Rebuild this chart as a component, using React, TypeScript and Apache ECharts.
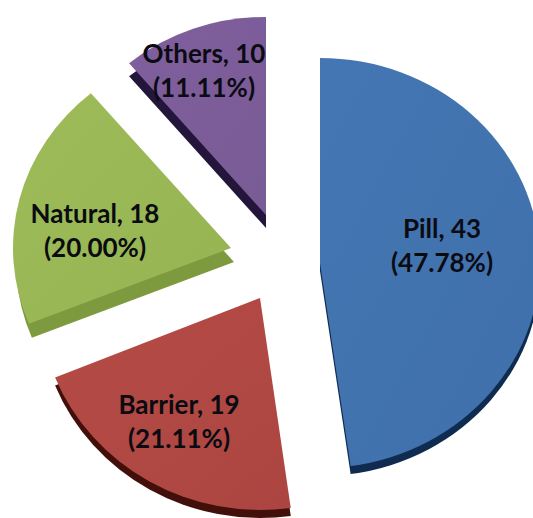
import React, { useEffect, useRef } from "react";
import * as echarts from "echarts";

const categories = ["Pill", "Barrier", "Natural", "Others"];
const values = [43, 19, 18, 10];

const faceColors = [
  ["#4476b3", "#3f70ab"],
  ["#b54b45", "#ac4541"],
  ["#9dbb59", "#96b452"],
  ["#7f5f9d", "#795b95"],
];
const sideColors = ["#0f2c50", "#420f0b", "#7d9a3f", "#24163a"];

// apex x, apex y, rx, ry, depth dx, depth dy, label x, label y
const layout = [
  [320, 263, 220, 205, 0, 8, 442, 245],
  [260, 298, 221, 212, 0, 8, 179, 421],
  [231, 248, 218, 202, 3, 14, 95, 230],
  [266, 215, 213, 198, 0, 13, 204, 70],
];

const total = values.reduce((a, b) => a + b, 0);

function renderItem(params: any, api: any) {
  const i = params.dataIndex;
  const val = api.value(0);
  let before = 0;
  for (let k = 0; k < i; k++) before += values[k];
  const start = (before / total) * Math.PI * 2 - Math.PI / 2;
  const end = ((before + val) / total) * Math.PI * 2 - Math.PI / 2;
  const [x, y, rx, ry, dx, dy, lx, ly] = layout[i];
  const shape = { cx: 0, cy: 0, r: rx, r0: 0, startAngle: start, endAngle: end, clockwise: true };
  return {
    type: "group",
    children: [
      {
        type: "sector",
        x: x + dx,
        y: y + dy,
        scaleY: ry / rx,
        shape,
        style: { fill: sideColors[i] },
      },
      {
        type: "sector",
        x,
        y,
        scaleY: ry / rx,
        shape,
        style: {
          fill: new echarts.graphic.LinearGradient(0, 0, 1, 1, [
            { offset: 0, color: faceColors[i][0] },
            { offset: 1, color: faceColors[i][1] },
          ]),
        },
      },
      {
        type: "text",
        x: lx,
        y: ly,
        z2: 10,
        style: {
          text: `${categories[i]}, ${val}\n(${((val / total) * 100).toFixed(2)}%)`,
          align: "center",
          verticalAlign: "middle",
          fontFamily: "Lato",
          fontWeight: "bold",
          fontSize: 26,
          lineHeight: 34,
          fill: "#0b0b12",
        },
      },
    ],
  };
}

export default function App() {
  const ref = useRef<HTMLDivElement>(null);
  useEffect(() => {
    const chart = echarts.init(ref.current!, null, { renderer: "svg" });
    chart.setOption({
      animation: false,
      backgroundColor: "#ffffff",
      series: [
        {
          type: "custom",
          coordinateSystem: "none",
          renderItem,
          silent: true,
          clip: false,
          data: values.map((v) => [v]),
        },
      ],
    });
    return () => chart.dispose();
  }, []);
  return (
    <div
      ref={ref}
      style={{ position: "absolute", left: 0, top: 0, width: 533, height: 518, overflow: "hidden" }}
    />
  );
}
